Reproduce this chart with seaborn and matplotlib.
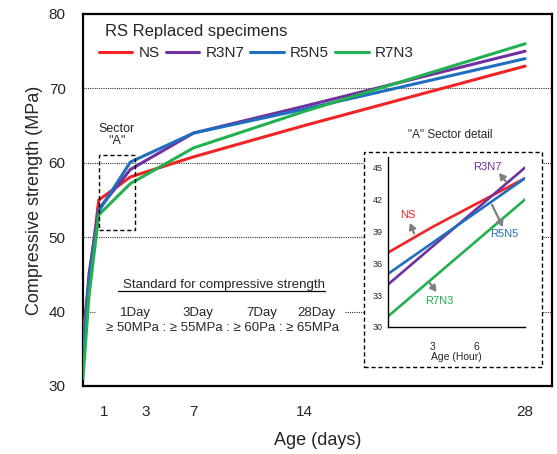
import numpy as np
import pandas as pd
import matplotlib
matplotlib.use("Agg")
import matplotlib.pyplot as plt
import seaborn as sns
from matplotlib.patches import Rectangle
from matplotlib.lines import Line2D

sns.set_style("white")
plt.rcParams['font.family'] = ['Liberation Sans', 'DejaVu Sans']

# ---- data ----
series = ["NS", "R3N7", "R5N5", "R7N3"]
colors = ["#F02424", "#7030A0", "#1F6FC0", "#22B050"]
days = [0, 0.375, 1, 3, 7, 14, 28]
ns_vals = [37, 44, 55, 58.1, 60.8, 65, 73]
r3n7_vals = [34, 45, 53.8, 59.1, 64, 67.6, 75]
r5n5_vals = [35, 44, 53.5, 60.1, 64, 67.2, 74]
r7n3_vals = [31, 42, 53, 57.2, 62, 66.9, 76]

xtick_labels = ["1", "3", "7", "14", "28"]
xtick_pos = [1.33, 4.0, 7, 14, 28]
yticks = [30, 40, 50, 60, 70, 80]

# inset (hours)
ns_hours = [0, 3, 6, 9.3]
ns_in = [37, 39.4, 41.6, 44]
lin_hours = [0, 9.3]
r3n7_in = [34, 45]
r5n5_in = [35, 44]
r7n3_in = [31, 42]
inset_yticks = [30, 33, 36, 39, 42, 45]
inset_xticks = [3, 6]

standard_days = ["1Day", "3Day", "7Day", "28Day"]
standard_req = "≥ 50MPa : ≥ 55MPa : ≥ 60Pa : ≥ 65MPa"

main_df = pd.concat([
    pd.DataFrame({"day": days, "val": v, "mix": s})
    for s, v in zip(series, [ns_vals, r3n7_vals, r5n5_vals, r7n3_vals])
])
inset_df = pd.concat([
    pd.DataFrame({"hour": ns_hours, "val": ns_in, "mix": "NS"}),
    pd.DataFrame({"hour": lin_hours, "val": r3n7_in, "mix": "R3N7"}),
    pd.DataFrame({"hour": lin_hours, "val": r5n5_in, "mix": "R5N5"}),
    pd.DataFrame({"hour": lin_hours, "val": r7n3_in, "mix": "R7N3"}),
])
palette = dict(zip(series, colors))

fig = plt.figure(figsize=(5.57, 4.54), dpi=100)
ax = fig.add_axes([83/557, 1-386/454, 469/557, 372/454])

sns.lineplot(data=main_df, x="day", y="val", hue="mix", palette=palette,
             hue_order=series, sort=False, estimator=None, lw=2.2,
             legend=False, ax=ax, zorder=4)

ax.set_xlim(0, 29.7)
ax.set_ylim(30, 80)
ax.set_xticks(xtick_pos)
ax.set_xticklabels(xtick_labels)
ax.set_yticks(yticks)
ax.tick_params(axis='x', direction='in', length=4, width=1, color='black',
               labelsize=11, pad=14)
ax.tick_params(axis='y', length=0, labelsize=11, pad=12.5)
for sp in ax.spines.values():
    sp.set_color('black')
    sp.set_linewidth(1.6)
ax.set_xlabel("Age (days)", fontsize=13, labelpad=9)
ax.set_ylabel("Compressive strength (MPa)", fontsize=13, labelpad=4)

# gridlines
gkw = dict(color='#333333', lw=0.8, ls=(0, (1, 1)), zorder=1)
for yv in [50, 60, 70]:
    ax.axhline(yv, **gkw)
ax.hlines(40, 0, 0.75, **gkw)
ax.hlines(40, 16.6, 29.7, **gkw)

# title + legend
ax.text(0.047, 0.952, "RS Replaced specimens", transform=ax.transAxes,
        fontsize=12, va='center', ha='left')
handles = [Line2D([], [], color=c, lw=2.2) for c in colors]
ax.legend(handles, series, loc='center left', bbox_to_anchor=(0.017, 0.895),
          ncol=4, frameon=False, fontsize=11, borderpad=0, handlelength=2.2,
          handletextpad=0.4, columnspacing=0.4)

# sector A
ax.add_patch(Rectangle((1.0, 51), 2.3, 10, fill=False, ls=(0, (3, 2)),
                       lw=1, ec='black', zorder=5))
ax.text(2.15, 63.8, 'Sector\n"A"', ha='center', va='center', fontsize=9,
        linespacing=1.0)

# standard text
ax.text(8.92, 43.6, "Standard for compressive strength", ha='center',
        va='center', fontsize=9.5)
ax.plot([2.2, 15.3], [42.75, 42.75], color='black', lw=0.9)
for lab, xp in zip(standard_days, [3.29, 7.28, 11.33, 14.8]):
    ax.text(xp, 39.8, lab, ha='center', va='center', fontsize=9.5)
ax.text(8.86, 37.8, standard_req, ha='center', va='center', fontsize=9.5)

# inset frame (white)
ax.add_patch(Rectangle((364/557, 1-367/454), 178/557, 215/454,
                       transform=fig.transFigure, facecolor='white',
                       edgecolor='black', ls=(0, (3, 2)), lw=1, zorder=6,
                       clip_on=False))
fig.text(450/557, 1-135/454, '"A" Sector detail', ha='center', va='center',
         fontsize=8.5)

iax = fig.add_axes([388/557, 1-327/454, 137/557, 170/454])
sns.lineplot(data=inset_df, x="hour", y="val", hue="mix", palette=palette,
             hue_order=series, sort=False, estimator=None, lw=1.9,
             legend=False, ax=iax)
iax.set_xlim(0, 9.3)
iax.set_ylim(30, 46)
iax.set_xticks(inset_xticks)
iax.set_yticks(inset_yticks)
iax.set_facecolor('none')
for s in ['top', 'right']:
    iax.spines[s].set_visible(False)
for s in ['left', 'bottom']:
    iax.spines[s].set_color('black')
    iax.spines[s].set_linewidth(1)
iax.tick_params(axis='x', direction='out', length=3, width=0.8, labelsize=7.5,
                pad=8, color='black')
iax.tick_params(axis='y', direction='out', length=0, labelsize=6.5, pad=4)
iax.set_xlabel("Age (Hour)", fontsize=7.5, labelpad=0)
iax.set_ylabel("")

akw = dict(arrowstyle='-|>,head_length=0.35,head_width=0.2', color='#808080',
           lw=1.6, shrinkA=0, shrinkB=0)
iax.annotate("", xy=(1.49, 39.8), xytext=(1.77, 38.8), arrowprops=akw)
iax.text(1.36, 40.5, "NS", color=colors[0], fontsize=8, ha='center', va='center')
iax.annotate("", xy=(7.54, 44.5), xytext=(8.0, 43.7), arrowprops=akw)
iax.text(6.72, 45.1, "R3N7", color=colors[1], fontsize=8, ha='center', va='center')
iax.annotate("", xy=(7.8, 39.4), xytext=(7.06, 41.5), arrowprops=akw)
iax.text(7.9, 38.8, "R5N5", color=colors[2], fontsize=8, ha='center', va='center')
iax.annotate("", xy=(3.3, 33.3), xytext=(2.8, 34.2), arrowprops=akw)
iax.text(3.5, 32.4, "R7N3", color=colors[3], fontsize=8, ha='center', va='center')

fig.savefig("out.png", dpi=100)
